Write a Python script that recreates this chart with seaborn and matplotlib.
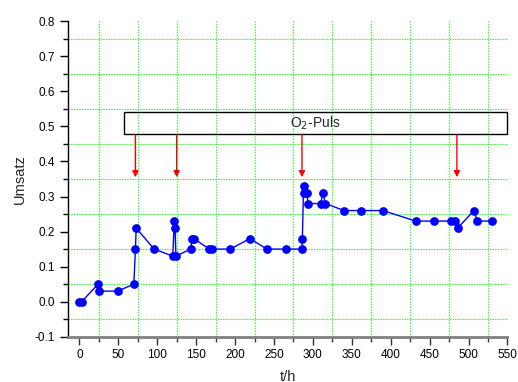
import numpy as np
import pandas as pd
import matplotlib
matplotlib.use("Agg")
import matplotlib.pyplot as plt
import seaborn as sns
from matplotlib.ticker import MultipleLocator

# ---- data ----
t_h = [0, 3, 24, 25, 49, 70, 72, 73, 96, 120, 122, 123, 124, 143, 145, 147,
       167, 171, 194, 219, 241, 266, 286, 286.5, 288, 288.5, 292, 294, 310,
       313, 316, 340, 362, 390, 432, 455, 478, 482, 486, 507, 511, 530]
umsatz = [0.00, 0.00, 0.05, 0.03, 0.03, 0.05, 0.15, 0.21, 0.15, 0.13, 0.23, 0.21,
          0.13, 0.15, 0.18, 0.18, 0.15, 0.15, 0.15, 0.18, 0.15, 0.15, 0.15, 0.18,
          0.33, 0.31, 0.31, 0.28, 0.28, 0.31, 0.28, 0.26, 0.26, 0.26, 0.23, 0.23,
          0.23, 0.23, 0.21, 0.26, 0.23, 0.23]
pulse_times = [72, 125, 286, 485]
x_ticks = list(range(0, 551, 50))
y_ticks = [-0.1, 0.0, 0.1, 0.2, 0.3, 0.4, 0.5, 0.6, 0.7, 0.8]

df = pd.DataFrame({"t/h": t_h, "Umsatz": umsatz})

sns.set_theme(style="white")
plt.rcParams["font.family"] = ["Liberation Sans", "DejaVu Sans"]

fig = plt.figure(figsize=(5.18, 3.82), dpi=100)
ax = fig.add_axes([0.1307, 0.1186, 0.849, 0.8256])

sns.lineplot(data=df, x="t/h", y="Umsatz", sort=False, color="#0000ff",
             linewidth=1.0, marker="o", markersize=6.3, markeredgewidth=0,
             ax=ax, zorder=3)

ax.set_xlim(-15, 550)
ax.set_ylim(-0.1, 0.8)
ax.set_xticks(x_ticks)
ax.set_yticks(y_ticks)
ax.set_yticklabels([f"{v:.1f}" for v in y_ticks])
ax.xaxis.set_minor_locator(MultipleLocator(50, offset=25))
ax.yaxis.set_minor_locator(MultipleLocator(0.1, offset=0.05))

ax.grid(False)
ax.grid(which="minor", color="#22ff22", linestyle=(0, (1.2, 1.2)), linewidth=0.8, zorder=0)

for s in ["top", "right"]:
    ax.spines[s].set_visible(False)
ax.spines["left"].set_color("black")
ax.spines["left"].set_linewidth(1.0)
ax.spines["bottom"].set_color("#808080")
ax.spines["bottom"].set_linewidth(2.0)

ax.tick_params(which="major", direction="out", length=6, width=1, colors="black",
               labelsize=8.5, left=True, bottom=True, pad=3)
ax.tick_params(which="minor", direction="out", length=3.5, width=1, colors="black",
               left=True, bottom=True)
ax.tick_params(axis="x", which="both", color="#333333")

ax.set_xlabel("t/h", fontsize=10.5, labelpad=6)
ax.set_ylabel("Umsatz", fontsize=10.5, labelpad=6)

# O2-Puls box
ax.add_patch(plt.Rectangle((57, 0.478), 493, 0.063, fill=False, edgecolor="black",
                           linewidth=1.0, zorder=4, clip_on=False))
ax.text(303.5, 0.51, "O$_2$-Puls", ha="center", va="center", fontsize=10, zorder=5)

for tp in pulse_times:
    ax.annotate("", xy=(tp, 0.355), xytext=(tp, 0.476),
                arrowprops=dict(arrowstyle="-|>", color="red", lw=1.0,
                                mutation_scale=9, shrinkA=0, shrinkB=0),
                zorder=4)

fig.savefig("out.png", dpi=100)
